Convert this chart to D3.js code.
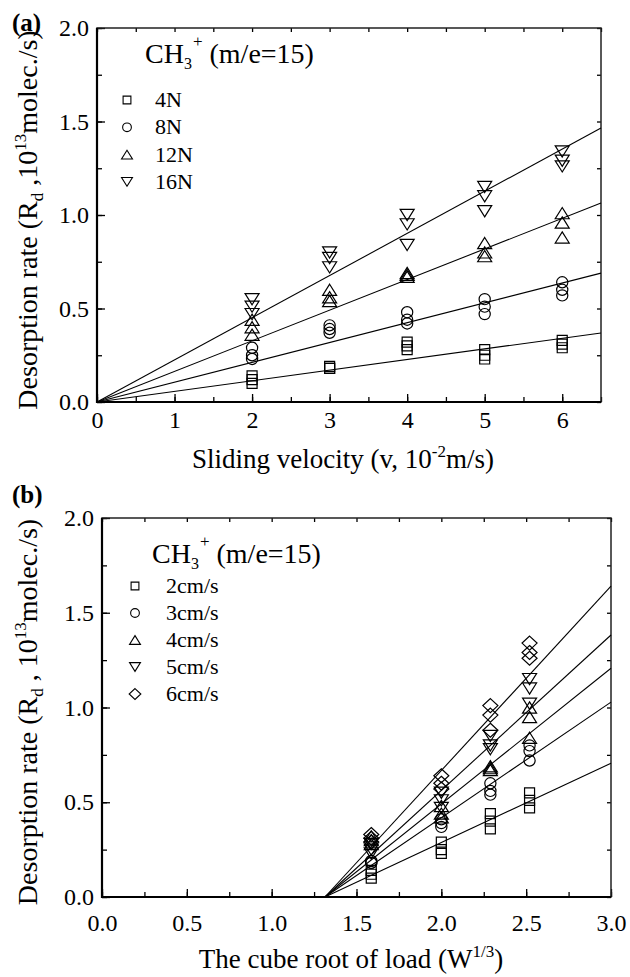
<!DOCTYPE html>
<html>
<head>
<meta charset="utf-8">
<script src="https://cdn.jsdelivr.net/npm/d3@7"></script>
<style>
  body { margin: 0; background: #fff; }
  text { font-family: "Liberation Serif", "Times New Roman", serif; fill: #000; }
</style>
</head>
<body>
<div id="chart"></div>
<script>
// values: desorption rate of CH3+ in 10^13 molec./s

// sliding velocities (10^-2 m/s) and the cube root of the four loads
const velocities = [2, 3, 4, 5, 6];
const cubeRootLoad = [1.587, 2.0, 2.289, 2.520];
const loadNames = ["4N", "8N", "12N", "16N"];
const velocityNames = ["2cm/s", "3cm/s", "4cm/s", "5cm/s", "6cm/s"];

// three runs at each velocity (2..6 cm/s), one array per load
const rate4N  = [[0.14, 0.12, 0.10], [0.19, 0.18, 0.18], [0.32, 0.30, 0.28], [0.28, 0.25, 0.23], [0.33, 0.31, 0.29]];
const rate8N  = [[0.29, 0.25, 0.23], [0.41, 0.39, 0.37], [0.48, 0.44, 0.42], [0.55, 0.51, 0.47], [0.64, 0.60, 0.57]];
const rate12N = [[0.44, 0.40, 0.36], [0.60, 0.56, 0.54], [0.69, 0.68, 0.67], [0.85, 0.80, 0.78], [1.01, 0.96, 0.88]];
const rate16N = [[0.55, 0.51, 0.47], [0.80, 0.77, 0.72], [1.00, 0.95, 0.84], [1.15, 1.10, 1.02], [1.34, 1.29, 1.26]];
const rates = [rate4N, rate8N, rate12N, rate16N];

// fitted lines. (a) go through the origin, (b) share one x intercept
const slopeA = [0.0568, 0.106, 0.1637, 0.2254];
const slopeB = [0.419, 0.610, 0.716, 0.820, 0.973];
const interceptB = 1.314;

// tick labels
const xTicksA = [0, 1, 2, 3, 4, 5, 6];
const xTicksB = [0, 0.5, 1, 1.5, 2, 2.5, 3];
const yTicks = [0, 0.5, 1, 1.5, 2];

const svg = d3.select("#chart")
    .append("svg")
    .attr("width", 630)
    .attr("height", 977)

// outline of a marker, centred on 0,0. k shrinks it for the legend
function markerPath(shape, k) {
    const p = d3.path();
    if (shape == "square") {
        const s = 5 * k;
        p.rect(-s, -s, 2 * s, 2 * s);
    } else if (shape == "circle") {
        const r = 5.6 * k;
        p.moveTo(r, 0);
        p.arc(0, 0, r, 0, 2 * Math.PI);
    } else if (shape == "up" || shape == "down") {
        const w = 7 * k, h = 5.6 * k, f = shape == "up" ? 1 : -1;
        p.moveTo(0, -h * f);
        p.lineTo(w, h * f);
        p.lineTo(-w, h * f);
        p.closePath();
    } else if (shape == "diamond") {
        const w = 7.5 * k, h = 7 * k;
        p.moveTo(0, -h);
        p.lineTo(w, 0);
        p.lineTo(0, h);
        p.lineTo(-w, 0);
        p.closePath();
    }
    return p.toString();
}

function drawPanel(cfg) {
    const x = d3.scaleLinear().domain(cfg.xDomain).range([cfg.left, cfg.right]);
    const y = d3.scaleLinear().domain([0, 2]).range([cfg.bottom, cfg.top]);
    const g = svg.append("g");

    // minor ticks sit half way between the labelled ones
    const xMinor = d3.range(cfg.xDomain[0], cfg.xDomain[1] + 1e-9, cfg.xStep / 2);
    const yMinor = d3.range(0, 2 + 1e-9, 0.25);

    const axes = [
        g.append("g").attr("transform", `translate(0,${cfg.bottom})`)
            .call(d3.axisBottom(x).tickValues(xMinor).tickSize(-5).tickFormat("")),
        g.append("g").attr("transform", `translate(0,${cfg.bottom})`)
            .call(d3.axisBottom(x).tickValues(cfg.xTicks).tickSize(-8).tickPadding(cfg.xPad).tickFormat(cfg.xFormat)),
        g.append("g").attr("transform", `translate(${cfg.left},0)`)
            .call(d3.axisLeft(y).tickValues(yMinor).tickSize(-5).tickFormat("")),
        g.append("g").attr("transform", `translate(${cfg.left},0)`)
            .call(d3.axisLeft(y).tickValues(yTicks).tickSize(-8).tickPadding(8).tickFormat(d3.format(".1f"))),
        g.append("g").attr("transform", `translate(0,${cfg.top})`)
            .call(d3.axisTop(x).tickValues(xMinor).tickSize(-4).tickFormat("")),
        g.append("g").attr("transform", `translate(${cfg.right},0)`)
            .call(d3.axisRight(y).tickValues(yMinor).tickSize(-4).tickFormat(""))
    ];
    axes.forEach(a => {
        a.select(".domain").remove();
        a.selectAll("line").attr("stroke", "#000").attr("stroke-width", 1.3);
        a.selectAll("text").attr("font-size", 24).attr("font-family", "Liberation Serif, serif").attr("fill", "#000");
    });

    // frame, left and bottom a little heavier
    g.append("rect")
        .attr("x", cfg.left).attr("y", cfg.top)
        .attr("width", cfg.right - cfg.left).attr("height", cfg.bottom - cfg.top)
        .attr("fill", "none").attr("stroke", "#222").attr("stroke-width", 1.5);
    g.append("path")
        .attr("d", `M${cfg.left},${cfg.top}V${cfg.bottom}H${cfg.right}`)
        .attr("fill", "none").attr("stroke", "#000").attr("stroke-width", 2.2);

    // fitted lines
    g.selectAll(".fit")
        .data(cfg.lines)
        .join("line")
        .attr("x1", d => x(d.x0)).attr("y1", d => y(d.y0))
        .attr("x2", d => x(d.x1)).attr("y2", d => y(d.y1))
        .attr("stroke", "#000").attr("stroke-width", 1.1);

    // measured points, no fill so overlapping markers stay readable
    g.selectAll(".pt")
        .data(cfg.points)
        .join("path")
        .attr("transform", d => `translate(${x(d.x)},${y(d.y)})`)
        .attr("d", d => markerPath(d.shape, 1))
        .attr("fill", "none").attr("stroke", "#000").attr("stroke-width", 1.2);

    // panel letter
    g.append("text").attr("x", 12).attr("y", cfg.letterY)
        .attr("font-size", 25).attr("font-weight", "bold").text(cfg.letter);

    // legend title CH3+ (m/e=15)
    const lt = g.append("text").attr("x", cfg.legX).attr("y", cfg.legY).attr("font-size", 28);
    lt.append("tspan").text("CH");
    lt.append("tspan").attr("font-size", 16).attr("dy", 6).text("3");
    lt.append("tspan").attr("font-size", 17).attr("dx", 1).attr("dy", -22).text("+");
    lt.append("tspan").attr("dy", 16).text(" (m/e=15)");

    const leg = g.selectAll(".leg")
        .data(cfg.legend)
        .join("g")
        .attr("transform", (d, i) => `translate(${cfg.symX},${cfg.rowY + i * cfg.rowStep})`);
    leg.append("path")
        .attr("d", d => markerPath(d.shape, 0.78))
        .attr("fill", "none").attr("stroke", "#000").attr("stroke-width", 1.1);
    leg.append("text")
        .attr("x", cfg.textDx).attr("y", 7)
        .attr("font-size", 22)
        .text(d => d.name);

    // y axis title
    const yt = g.append("text")
        .attr("transform", `translate(37,${cfg.yTitleY}) rotate(-90)`)
        .attr("text-anchor", "middle")
        .attr("font-size", 28);
    yt.append("tspan").text("Desorption rate (R");
    yt.append("tspan").attr("font-size", 17).attr("dy", 6).text("d");
    yt.append("tspan").attr("dy", -6).text(cfg.commaText);
    yt.append("tspan").attr("font-size", 17).attr("dy", -11).text("13");
    yt.append("tspan").attr("dy", 11).text("molec./s)");

    // x axis title
    const xt = g.append("text")
        .attr("x", cfg.xTitleX).attr("y", cfg.xTitleY)
        .attr("text-anchor", "middle")
        .attr("font-size", 27);
    xt.append("tspan").text(cfg.xTitle[0]);
    xt.append("tspan").attr("font-size", 17).attr("dy", -11).text(cfg.xTitle[1]);
    xt.append("tspan").attr("dy", 11).text(cfg.xTitle[2]);
}

// panel (a): one series per load against sliding velocity
const shapesA = ["square", "circle", "up", "down"];
const pointsA = [];
rates.forEach((byVel, i) => byVel.forEach((runs, j) => runs.forEach(v => {
    pointsA.push({ x: velocities[j], y: v, shape: shapesA[i] });
})));

drawPanel({
    left: 97, right: 601, top: 28, bottom: 402,
    xDomain: [0, 6.5], xStep: 1, xTicks: xTicksA, xFormat: d3.format("d"), xPad: 9,
    points: pointsA,
    lines: slopeA.map(s => ({ x0: 0, y0: 0, x1: 6.5, y1: s * 6.5 })),
    letter: "(a)", letterY: 31,
    legX: 145, legY: 63, symX: 127, rowY: 100, rowStep: 27.3, textDx: 28,
    legend: loadNames.map((n, i) => ({ name: n, shape: shapesA[i] })),
    yTitleY: 220, commaText: " ,10",
    xTitleX: 343, xTitleY: 468, xTitle: ["Sliding velocity (v, 10", "-2", "m/s)"]
});

// panel (b): the same runs, one series per velocity against the cube root of load
const shapesB = ["square", "circle", "up", "down", "diamond"];
const pointsB = [];
velocities.forEach((v, j) => rates.forEach((byVel, i) => byVel[j].forEach(r => {
    pointsB.push({ x: cubeRootLoad[i], y: r, shape: shapesB[j] });
})));

drawPanel({
    left: 102, right: 611, top: 518, bottom: 897,
    xDomain: [0, 3], xStep: 0.5, xTicks: xTicksB, xFormat: d3.format(".1f"), xPad: 17,
    points: pointsB,
    lines: slopeB.map(s => ({ x0: interceptB, y0: 0, x1: 3, y1: s * (3 - interceptB) })),
    letter: "(b)", letterY: 503,
    legX: 152, legY: 563, symX: 135, rowY: 586, rowStep: 27, textDx: 31,
    legend: velocityNames.map((n, i) => ({ name: n, shape: shapesB[i] })),
    yTitleY: 712, commaText: " , 10",
    xTitleX: 351, xTitleY: 968, xTitle: ["The cube root of load (W", "1/3", ")"]
});
</script>
</body>
</html>
